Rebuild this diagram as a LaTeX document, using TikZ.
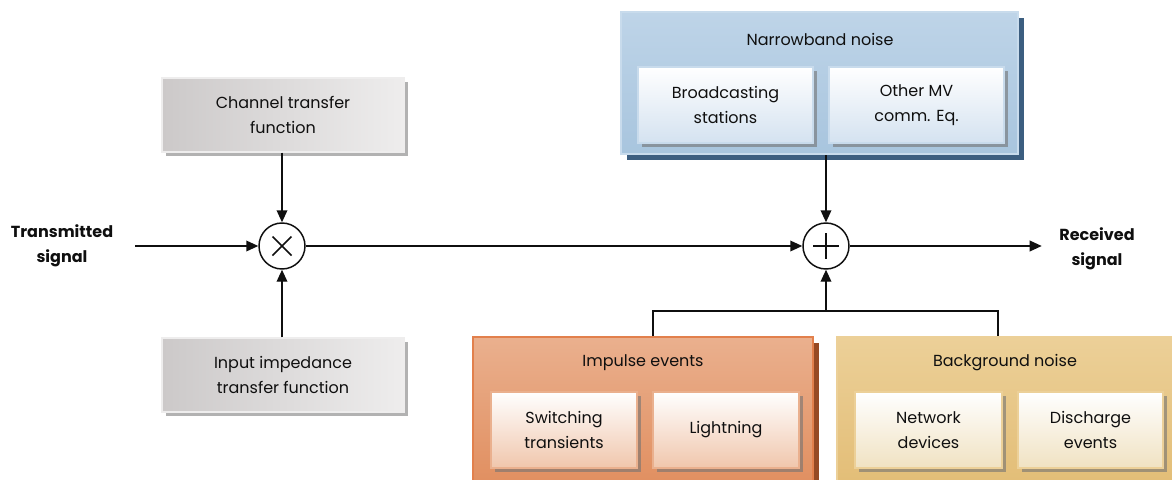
\documentclass[tikz,border=0pt]{standalone}
\usepackage{fontspec}
\setmainfont{Poppins}
\usetikzlibrary{arrows.meta,shadows,calc}

\definecolor{grayA}{RGB}{204,201,201}
\definecolor{grayB}{RGB}{238,237,237}
\definecolor{grayShadow}{RGB}{170,170,170}
\definecolor{blueFill}{RGB}{168,197,222}
\definecolor{blueTop}{RGB}{190,212,232}
\definecolor{blueEdge}{RGB}{200,219,236}
\definecolor{blueShadow}{RGB}{60,94,128}
\definecolor{blueInner}{RGB}{212,226,240}
\definecolor{orgFill}{RGB}{224,140,92}
\definecolor{orgTop}{RGB}{234,176,142}
\definecolor{orgEdge}{RGB}{226,128,76}
\definecolor{orgShadow}{RGB}{150,74,36}
\definecolor{orgInner}{RGB}{240,198,172}
\definecolor{goldFill}{RGB}{226,188,116}
\definecolor{goldTop}{RGB}{236,208,152}
\definecolor{goldShadow}{RGB}{168,128,56}
\definecolor{goldInner}{RGB}{240,226,194}
\definecolor{ink}{RGB}{15,15,15}

\tikzset{
  x=0.75pt, y=-0.75pt,
  every node/.style={text=ink, font=\fontsize{12}{18.5}\selectfont, align=center},
  graybox/.style={rectangle, left color=grayA, right color=grayB, draw=grayB, line width=1pt,
    minimum width=181.5pt, minimum height=55.5pt,
    drop shadow={shadow xshift=3pt, shadow yshift=-3pt, fill=grayShadow, opacity=0.9}},
  outerbox/.style args={#1/#2/#3/#4}{rectangle, top color=#2, bottom color=#1, draw=#3, line width=1.5pt,
    drop shadow={shadow xshift=4.5pt, shadow yshift=-4.5pt, fill=#4, opacity=1}},
  innerbox/.style args={#1/#2}{rectangle, top color=white, bottom color=#1, draw=#2, line width=1.5pt,
    minimum height=57pt, drop shadow={shadow xshift=3pt, shadow yshift=-3pt, fill=black!55, opacity=0.6}},
  opnode/.style={circle, draw=ink, line width=1.1pt, fill=white, minimum size=34.5pt, inner sep=0pt},
  conn/.style={draw=ink, line width=1.1pt},
  arr/.style={conn, -{Triangle[length=9pt, width=8pt]}},
  sigtext/.style={font=\bfseries\fontsize{12}{18.5}\selectfont}
}

\begin{document}
\begin{tikzpicture}
\path[use as bounding box] (0,0) rectangle (1172,479);
\clip (0,0) rectangle (1172,479);

% channel blocks
\node[graybox] (chan) at (283,115) {Channel transfer\\function};
\node[graybox] (imp)  at (283,375) {Input impedance\\transfer function};

% operators
\node[opnode] (mult) at (282,246) {};
\draw[ink, line width=1.1pt] ($(mult)+(-9.5,-9.5)$) -- ($(mult)+(9.5,9.5)$)
                             ($(mult)+(-9.5,9.5)$) -- ($(mult)+(9.5,-9.5)$);
\node[opnode] (plus) at (826,246) {};
\draw[ink, line width=1.1pt] ($(plus)+(-13,0)$) -- ($(plus)+(13,0)$)
                             ($(plus)+(0,-13)$) -- ($(plus)+(0,13)$);

% signal labels
\node[sigtext] (tx) at (62,246) {Transmitted\\signal};
\node[sigtext] (rx) at (1097,249) {Received\\signal};

% narrowband noise
\node[outerbox=blueFill/blueTop/blueEdge/blueShadow, minimum width=297.75pt, minimum height=106.5pt] (nb) at (819.5,83) {};
\node (nbt) at (820,39) {Narrowband noise};
\node[innerbox=blueInner/blueEdge, minimum width=131pt] (bc) at (725.5,105) {Broadcasting\\stations};
\node[innerbox=blueInner/blueEdge, minimum width=131pt] (omv) at (916.5,105) {Other MV\\comm. Eq.};

% impulse events
\node[outerbox=orgFill/orgTop/orgEdge/orgShadow, minimum width=255pt, minimum height=120pt] (ie) at (643,417) {};
\node (iet) at (643,363) {Impulse events};
\node[innerbox=orgInner/orgTop, minimum width=109.5pt] (sw) at (564,430) {Switching\\transients};
\node[innerbox=orgInner/orgTop, minimum width=109.5pt] (li) at (726,430) {Lightning};

% background noise
\node[outerbox=goldFill/goldTop/goldTop/goldShadow, minimum width=253.5pt, minimum height=120pt] (bg) at (1006,417) {};
\node (bgt) at (1005,363) {Background noise};
\node[innerbox=goldInner/goldTop, minimum width=110pt] (nd) at (928.5,430) {Network\\devices};
\node[innerbox=goldInner/goldTop, minimum width=109pt] (de) at (1090.5,430) {Discharge\\events};

% connectors
\coordinate (j) at (826,311);
\draw[arr] ($(mult.west)+(-123,0)$) -- (mult.west);
\draw[arr] (chan.south -| mult) -- (mult.north);
\draw[arr] (imp.north -| mult) -- (mult.south);
\draw[arr] (mult.east) -- (plus.west);
\draw[arr] (nb.south -| plus) -- (plus.north);
\draw[arr] (plus.east) -- ($(plus.east)+(192,0)$);
\draw[conn] ($(ie.north)+(10,0)$) |- (j) -| ($(bg.north)+(-8,0)$);
\draw[arr] (j) -- (plus.south);
\end{tikzpicture}
\end{document}
